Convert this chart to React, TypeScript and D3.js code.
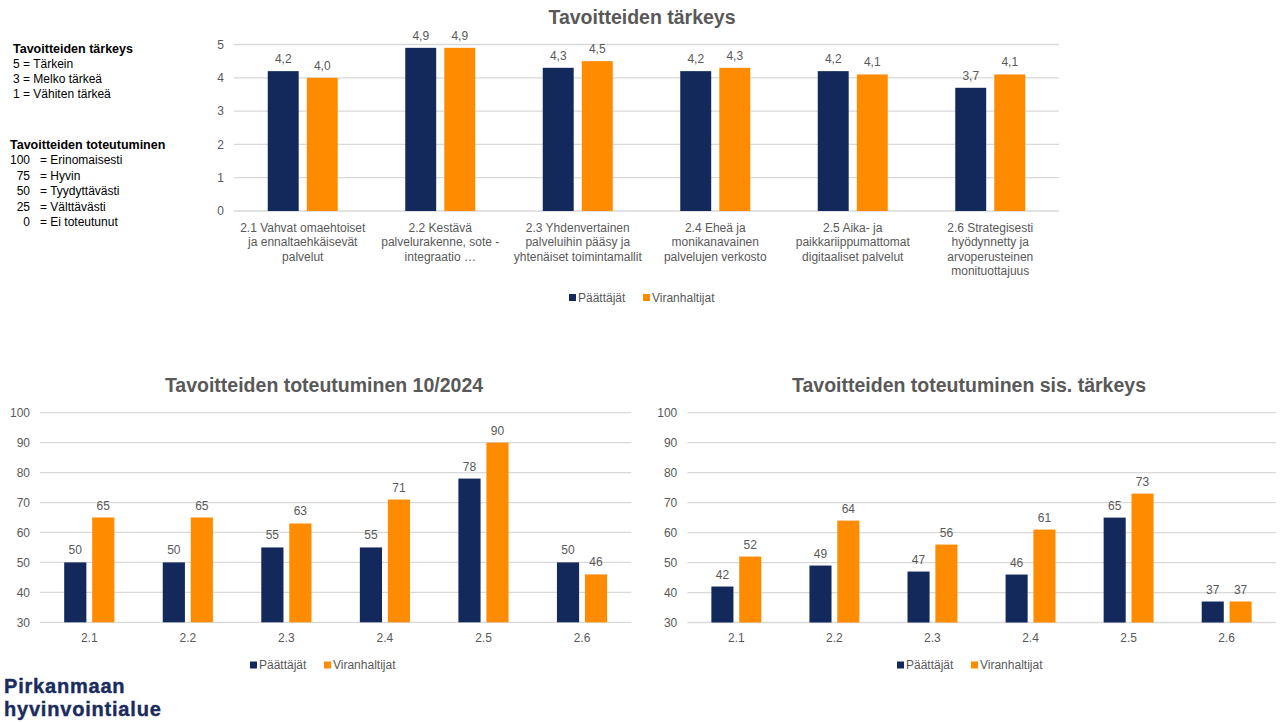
import React from "react";
import * as d3 from "d3";

// ---- Data ----
const seriesNames = ["Päättäjät", "Viranhaltijat"];
const seriesColors = ["#13285b", "#ff8b00"];

// Goal importance (scale 1–5)
const importanceCategories = [
  ["2.1 Vahvat omaehtoiset", "ja ennaltaehkäisevät", "palvelut"],
  ["2.2 Kestävä", "palvelurakenne, sote -", "integraatio …"],
  ["2.3 Yhdenvertainen", "palveluihin pääsy ja", "yhtenäiset toimintamallit"],
  ["2.4 Eheä ja", "monikanavainen", "palvelujen verkosto"],
  ["2.5 Aika- ja", "paikkariippumattomat", "digitaaliset palvelut"],
  ["2.6 Strategisesti", "hyödynnetty ja", "arvoperusteinen", "monituottajuus"],
];
const importanceDecisionMakers = [4.2, 4.9, 4.3, 4.2, 4.2, 3.7];
const importanceOfficials = [4.0, 4.9, 4.5, 4.3, 4.1, 4.1];
const importanceTicks = [0, 1, 2, 3, 4, 5];

// Goal realisation 10/2024 (scale 0–100)
const realizationCategories = ["2.1", "2.2", "2.3", "2.4", "2.5", "2.6"];
const realizationDecisionMakers = [50, 50, 55, 55, 78, 50];
const realizationOfficials = [65, 65, 63, 71, 90, 46];

// Goal realisation weighted by importance
const weightedDecisionMakers = [42, 49, 47, 46, 65, 37];
const weightedOfficials = [52, 64, 56, 61, 73, 37];
const realizationTicks = [30, 40, 50, 60, 70, 80, 90, 100];

// Scale explanations in the side panel
const importanceScale = ["5 = Tärkein", "3 = Melko tärkeä", "1 = Vähiten tärkeä"];
const realizationScaleValues = ["100", "75", "50", "25", "0"];
const realizationScaleTexts = ["Erinomaisesti", "Hyvin", "Tyydyttävästi", "Välttävästi", "Ei toteutunut"];

const FONT = "'Liberation Sans', Arial, Helvetica, sans-serif";
const TEXT = "#595959";
const GRID = "#d9d9d9";

const fiLocale = d3.formatLocale({ decimal: ",", thousands: " ", grouping: [3], currency: ["", " €"] });
const fmtOneDecimal = fiLocale.format(".1f");
const fmtInteger = d3.format(".0f");

type PanelProps = {
  title: string;
  titleX: number;
  titleY: number;
  categories: string[][];
  series: number[][];
  domain: [number, number];
  ticks: number[];
  left: number;
  right: number;
  top: number;
  bottom: number;
  fmt: (v: number) => string;
  catLabelY: number;
  legendX: number;
  legendY: number;
};

function BarPanel(p: PanelProps) {
  const x = d3
    .scaleBand<number>()
    .domain(d3.range(p.categories.length))
    .range([p.left, p.right])
    .paddingInner(0)
    .paddingOuter(0);
  const y = d3.scaleLinear().domain(p.domain).range([p.bottom, p.top]);
  const bw = x.bandwidth();
  const barW = bw * 0.225;
  const gap = bw * 0.059;

  return (
    <g fontFamily={FONT}>
      <text
        x={p.titleX}
        y={p.titleY}
        textAnchor="middle"
        fontSize={19.5}
        fontWeight="bold"
        fill={TEXT}
      >
        {p.title}
      </text>
      {p.ticks.map((t) => (
        <g key={t}>
          <line x1={p.left} x2={p.right} y1={y(t)} y2={y(t)} stroke={GRID} strokeWidth={1.3} />
          <text x={p.left - 10} y={y(t) + 4.3} textAnchor="end" fontSize={12} fill={TEXT}>
            {t}
          </text>
        </g>
      ))}
      {p.categories.map((lines, i) => {
        const cx = (x(i) as number) + bw / 2;
        return (
          <g key={i}>
            {p.series.map((vals, s) => {
              const v = vals[i];
              const bx = s === 0 ? cx - gap / 2 - barW : cx + gap / 2;
              return (
                <g key={s}>
                  <rect
                    x={bx}
                    y={y(v)}
                    width={barW}
                    height={p.bottom - y(v)}
                    fill={seriesColors[s]}
                  />
                  <text
                    x={bx + barW / 2}
                    y={y(v) - 8}
                    textAnchor="middle"
                    fontSize={12}
                    fill={TEXT}
                  >
                    {p.fmt(v)}
                  </text>
                </g>
              );
            })}
            <text textAnchor="middle" fontSize={12} fill={TEXT}>
              {lines.map((ln, k) => (
                <tspan key={k} x={cx} y={p.catLabelY + k * 14.6}>
                  {ln}
                </tspan>
              ))}
            </text>
          </g>
        );
      })}
      <g transform={`translate(${p.legendX},${p.legendY})`}>
        {seriesNames.map((name, s) => (
          <g key={name} transform={`translate(${s * 74},0)`}>
            <rect x={0} y={-3.5} width={7} height={7} fill={seriesColors[s]} />
            <text x={9} y={4.3} fontSize={12} fill={TEXT}>
              {name}
            </text>
          </g>
        ))}
      </g>
    </g>
  );
}

export default function App() {
  return (
    <svg
      width={1282}
      height={722}
      style={{ position: "absolute", left: 0, top: 0, background: "#fff" }}
    >
      <rect width={1282} height={722} fill="#fff" />

      {/* Side panel: scale explanations */}
      <g fontFamily={FONT} fill="#000">
        <text x={13} y={52.5} fontSize={12.5} fontWeight="bold">
          Tavoitteiden tärkeys
        </text>
        {importanceScale.map((t, i) => (
          <text key={t} x={13} y={67.8 + i * 15.3} fontSize={12}>
            {t}
          </text>
        ))}
        <text x={10} y={149} fontSize={12.5} fontWeight="bold">
          Tavoitteiden toteutuminen
        </text>
        {realizationScaleValues.map((v, i) => (
          <g key={v}>
            <text x={30} y={164.3 + i * 15.4} fontSize={12} textAnchor="end">
              {v}
            </text>
            <text x={40} y={164.3 + i * 15.4} fontSize={12}>
              {"= " + realizationScaleTexts[i]}
            </text>
          </g>
        ))}
      </g>

      <BarPanel
        title="Tavoitteiden tärkeys"
        titleX={642}
        titleY={23.5}
        categories={importanceCategories}
        series={[importanceDecisionMakers, importanceOfficials]}
        domain={[0, 5]}
        ticks={importanceTicks}
        left={234}
        right={1059}
        top={44.5}
        bottom={211}
        fmt={fmtOneDecimal}
        catLabelY={231.5}
        legendX={569}
        legendY={297.5}
      />

      <BarPanel
        title="Tavoitteiden toteutuminen 10/2024"
        titleX={324}
        titleY={391.5}
        categories={realizationCategories.map((c) => [c])}
        series={[realizationDecisionMakers, realizationOfficials]}
        domain={[30, 100]}
        ticks={realizationTicks}
        left={40}
        right={631.3}
        top={412.7}
        bottom={622.3}
        fmt={fmtInteger}
        catLabelY={642.3}
        legendX={250}
        legendY={665}
      />

      <BarPanel
        title="Tavoitteiden toteutuminen sis. tärkeys"
        titleX={969}
        titleY={391.5}
        categories={realizationCategories.map((c) => [c])}
        series={[weightedDecisionMakers, weightedOfficials]}
        domain={[30, 100]}
        ticks={realizationTicks}
        left={687.3}
        right={1275.7}
        top={412.7}
        bottom={622.5}
        fmt={fmtInteger}
        catLabelY={642.3}
        legendX={897}
        legendY={665}
      />

      {/* Organisation name */}
      <text
        fontFamily={FONT}
        fontWeight="bold"
        fill="#1a2b5e"
        fontSize={20}
        letterSpacing={0.8}
        stroke="#1a2b5e"
        strokeWidth={0.4}
      >
        <tspan x={4} y={693}>Pirkanmaan</tspan>
        <tspan x={4} y={716}>hyvinvointialue</tspan>
      </text>
    </svg>
  );
}
